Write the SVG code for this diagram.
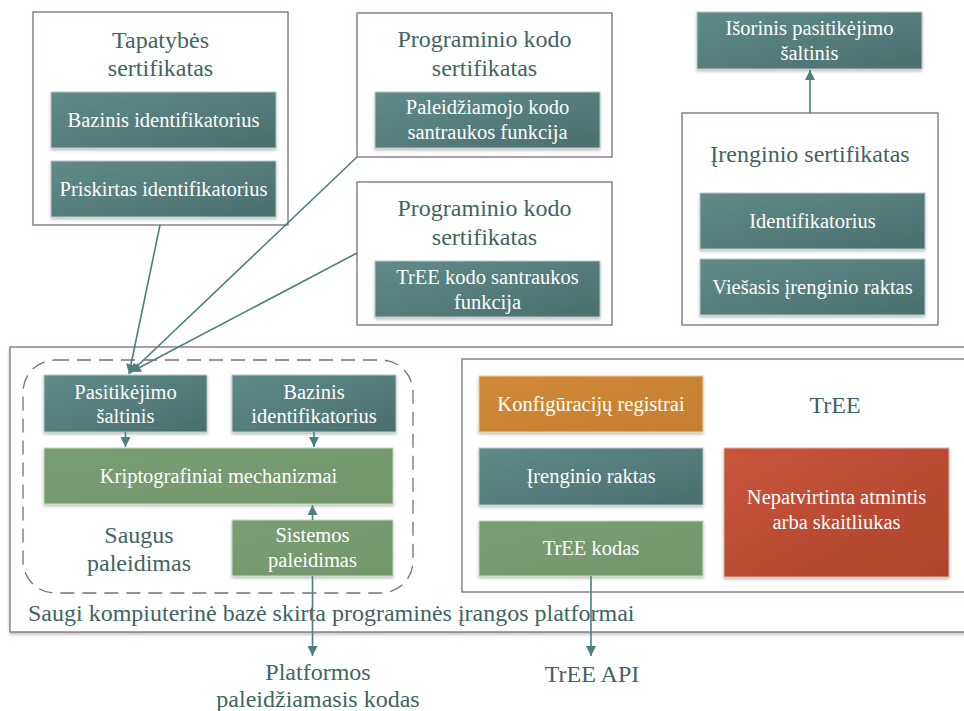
<svg xmlns="http://www.w3.org/2000/svg" width="964" height="711" viewBox="0 0 964 711" font-family="'Liberation Serif', 'DejaVu Serif', serif">
  <defs>
    <linearGradient id="gTeal" x1="0" y1="0" x2="1" y2="1">
      <stop offset="0" stop-color="#5f8b89"/>
      <stop offset="1" stop-color="#4a6f6d"/>
    </linearGradient>
    <linearGradient id="gGreen" x1="0" y1="0" x2="1" y2="1">
      <stop offset="0" stop-color="#7a9e73"/>
      <stop offset="1" stop-color="#72976b"/>
    </linearGradient>
    <linearGradient id="gOrange" x1="0" y1="0" x2="1" y2="1">
      <stop offset="0" stop-color="#d08936"/>
      <stop offset="1" stop-color="#c67f30"/>
    </linearGradient>
    <linearGradient id="gRed" x1="0" y1="0" x2="1" y2="1">
      <stop offset="0" stop-color="#c9553a"/>
      <stop offset="1" stop-color="#ad442c"/>
    </linearGradient>
    <filter id="shadow" x="-10%" y="-10%" width="120%" height="130%">
      <feGaussianBlur in="SourceAlpha" stdDeviation="1.5"/>
      <feOffset dx="0" dy="2" result="b"/>
      <feComponentTransfer><feFuncA type="linear" slope="0.25"/></feComponentTransfer>
      <feMerge><feMergeNode/><feMergeNode in="SourceGraphic"/></feMerge>
    </filter>
    <marker id="arrow" viewBox="0 0 10 10" refX="10" refY="5" markerWidth="10" markerHeight="10" markerUnits="userSpaceOnUse" orient="auto">
      <path d="M0,0 L10,5 L0,10 z" fill="#4d7f7f"/>
    </marker>
  </defs>
  <style>
    text { font-family: "Liberation Serif", "Times New Roman", "DejaVu Serif", serif; text-anchor: middle; }
    .frame { fill: #ffffff; stroke: #7b6b7b; stroke-width: 1.3; }
    .title { fill: #3f6462; font-size: 24px; }
    .big { fill: #3f6462; font-size: 24px; }
    .lbl { fill: #ffffff; font-size: 20.5px; }
    .teal { fill: url(#gTeal); stroke: #b9c9c8; stroke-width: 1; filter: url(#shadow); }
    .green { fill: url(#gGreen); stroke: #c6d6c2; stroke-width: 1; filter: url(#shadow); }
    .orange { fill: url(#gOrange); stroke: #e6c9a6; stroke-width: 1; filter: url(#shadow); }
    .red { fill: url(#gRed); stroke: #e0b3a8; stroke-width: 1; filter: url(#shadow); }
    .conn { stroke: #4d7f7f; stroke-width: 1.6; fill: none; marker-end: url(#arrow); }
  </style>

  <!-- platform trusted computing base -->
  <g id="tcb">
    <rect class="frame" x="10" y="347" width="960" height="285" filter="url(#shadow)"/>
    <text class="title" x="28" y="621" style="text-anchor:start">Saugi kompiuterinė bazė skirta programinės įrangos platformai</text>
  </g>

  <!-- secure boot -->
  <g id="secure-boot">
    <rect x="23" y="360" width="390" height="233" rx="32" ry="32" fill="none" stroke="#7b6b7b" stroke-width="1.3" stroke-dasharray="14,8"/>
    <text class="big"><tspan x="139" y="543">Saugus</tspan><tspan x="139" y="571">paleidimas</tspan></text>
  </g>
  <g id="trust-root">
    <rect class="teal" x="44" y="375" width="163" height="57"/>
    <text class="lbl"><tspan x="125.5" y="399">Pasitikėjimo</tspan><tspan x="125.5" y="423">šaltinis</tspan></text>
  </g>
  <g id="base-id">
    <rect class="teal" x="232" y="375" width="164" height="57"/>
    <text class="lbl"><tspan x="314" y="399">Bazinis</tspan><tspan x="314" y="423">identifikatorius</tspan></text>
  </g>
  <g id="crypto">
    <rect class="green" x="44" y="448" width="349" height="56"/>
    <text class="lbl" x="218.5" y="483">Kriptografiniai mechanizmai</text>
  </g>
  <g id="system-boot">
    <rect class="green" x="232" y="520" width="161" height="56"/>
    <text class="lbl"><tspan x="312.5" y="542">Sistemos</tspan><tspan x="312.5" y="567">paleidimas</tspan></text>
  </g>

  <!-- TrEE -->
  <g id="tree">
    <rect class="frame" x="462" y="359" width="510" height="233"/>
    <text class="title" x="835" y="413">TrEE</text>
  </g>
  <g id="config-registers">
    <rect class="orange" x="479" y="376" width="224" height="56"/>
    <text class="lbl" x="591" y="411">Konfigūracijų registrai</text>
  </g>
  <g id="device-key">
    <rect class="teal" x="479" y="448" width="224" height="57"/>
    <text class="lbl" x="591" y="483">Įrenginio raktas</text>
  </g>
  <g id="tree-code">
    <rect class="green" x="479" y="521" width="224" height="55"/>
    <text class="lbl" x="591" y="555">TrEE kodas</text>
  </g>
  <g id="unverified-storage">
    <rect class="red" x="724" y="448" width="225" height="129"/>
    <text class="lbl"><tspan x="836.5" y="504">Nepatvirtinta atmintis</tspan><tspan x="836.5" y="529">arba skaitliukas</tspan></text>
  </g>

  <!-- identity certificate -->
  <g id="identity-cert">
    <rect class="frame" x="33" y="12" width="255" height="213"/>
    <text class="title"><tspan x="160.5" y="48">Tapatybės</tspan><tspan x="160.5" y="76">sertifikatas</tspan></text>
    <rect class="teal" x="51" y="92" width="225" height="56"/>
    <text class="lbl" x="163.5" y="127">Bazinis identifikatorius</text>
    <rect class="teal" x="51" y="161" width="225" height="56"/>
    <text class="lbl" x="163.5" y="196">Priskirtas identifikatorius</text>
  </g>

  <!-- boot code certificate -->
  <g id="boot-code-cert">
    <rect class="frame" x="357" y="13" width="255" height="144"/>
    <text class="title"><tspan x="484.5" y="47">Programinio kodo</tspan><tspan x="484.5" y="76">sertifikatas</tspan></text>
    <rect class="teal" x="375" y="92" width="225" height="56"/>
    <text class="lbl"><tspan x="487.5" y="114">Paleidžiamojo kodo</tspan><tspan x="487.5" y="139">santraukos funkcija</tspan></text>
  </g>

  <!-- TrEE code certificate -->
  <g id="tree-code-cert">
    <rect class="frame" x="357" y="182" width="255" height="143"/>
    <text class="title"><tspan x="484.5" y="216">Programinio kodo</tspan><tspan x="484.5" y="245">sertifikatas</tspan></text>
    <rect class="teal" x="375" y="261" width="225" height="56"/>
    <text class="lbl"><tspan x="487.5" y="284">TrEE kodo santraukos</tspan><tspan x="487.5" y="309">funkcija</tspan></text>
  </g>

  <!-- external trust root -->
  <g id="external-root">
    <rect class="teal" x="697" y="12" width="225" height="57"/>
    <text class="lbl"><tspan x="809.5" y="35">Išorinis pasitikėjimo</tspan><tspan x="809.5" y="60">šaltinis</tspan></text>
  </g>

  <!-- device certificate -->
  <g id="device-cert">
    <rect class="frame" x="682" y="113" width="256" height="212"/>
    <text class="title" x="810" y="162">Įrenginio sertifikatas</text>
    <rect class="teal" x="700" y="193" width="225" height="56"/>
    <text class="lbl" x="812.5" y="228">Identifikatorius</text>
    <rect class="teal" x="700" y="259" width="225" height="56"/>
    <text class="lbl" x="812.5" y="294">Viešasis įrenginio raktas</text>
  </g>

  <!-- output labels -->
  <g id="platform-boot-code">
    <text class="big"><tspan x="318" y="680">Platformos</tspan><tspan x="318" y="707">paleidžiamasis kodas</tspan></text>
  </g>
  <g id="tree-api">
    <text class="big" x="592" y="682">TrEE API</text>
  </g>

  <!-- connectors -->
  <g id="connectors">
    <line class="conn" x1="160" y1="225" x2="129" y2="374"/>
    <line class="conn" x1="357" y1="157" x2="130" y2="373"/>
    <line class="conn" x1="357" y1="253" x2="131" y2="372"/>
    <line class="conn" x1="125.5" y1="432" x2="125.5" y2="447"/>
    <line class="conn" x1="314" y1="432" x2="314" y2="447"/>
    <line class="conn" x1="312.5" y1="520" x2="312.5" y2="505"/>
    <line class="conn" x1="312.5" y1="576" x2="312.5" y2="656"/>
    <line class="conn" x1="591" y1="576" x2="591" y2="656"/>
    <line class="conn" x1="810" y1="113" x2="810" y2="70"/>
  </g>
</svg>
